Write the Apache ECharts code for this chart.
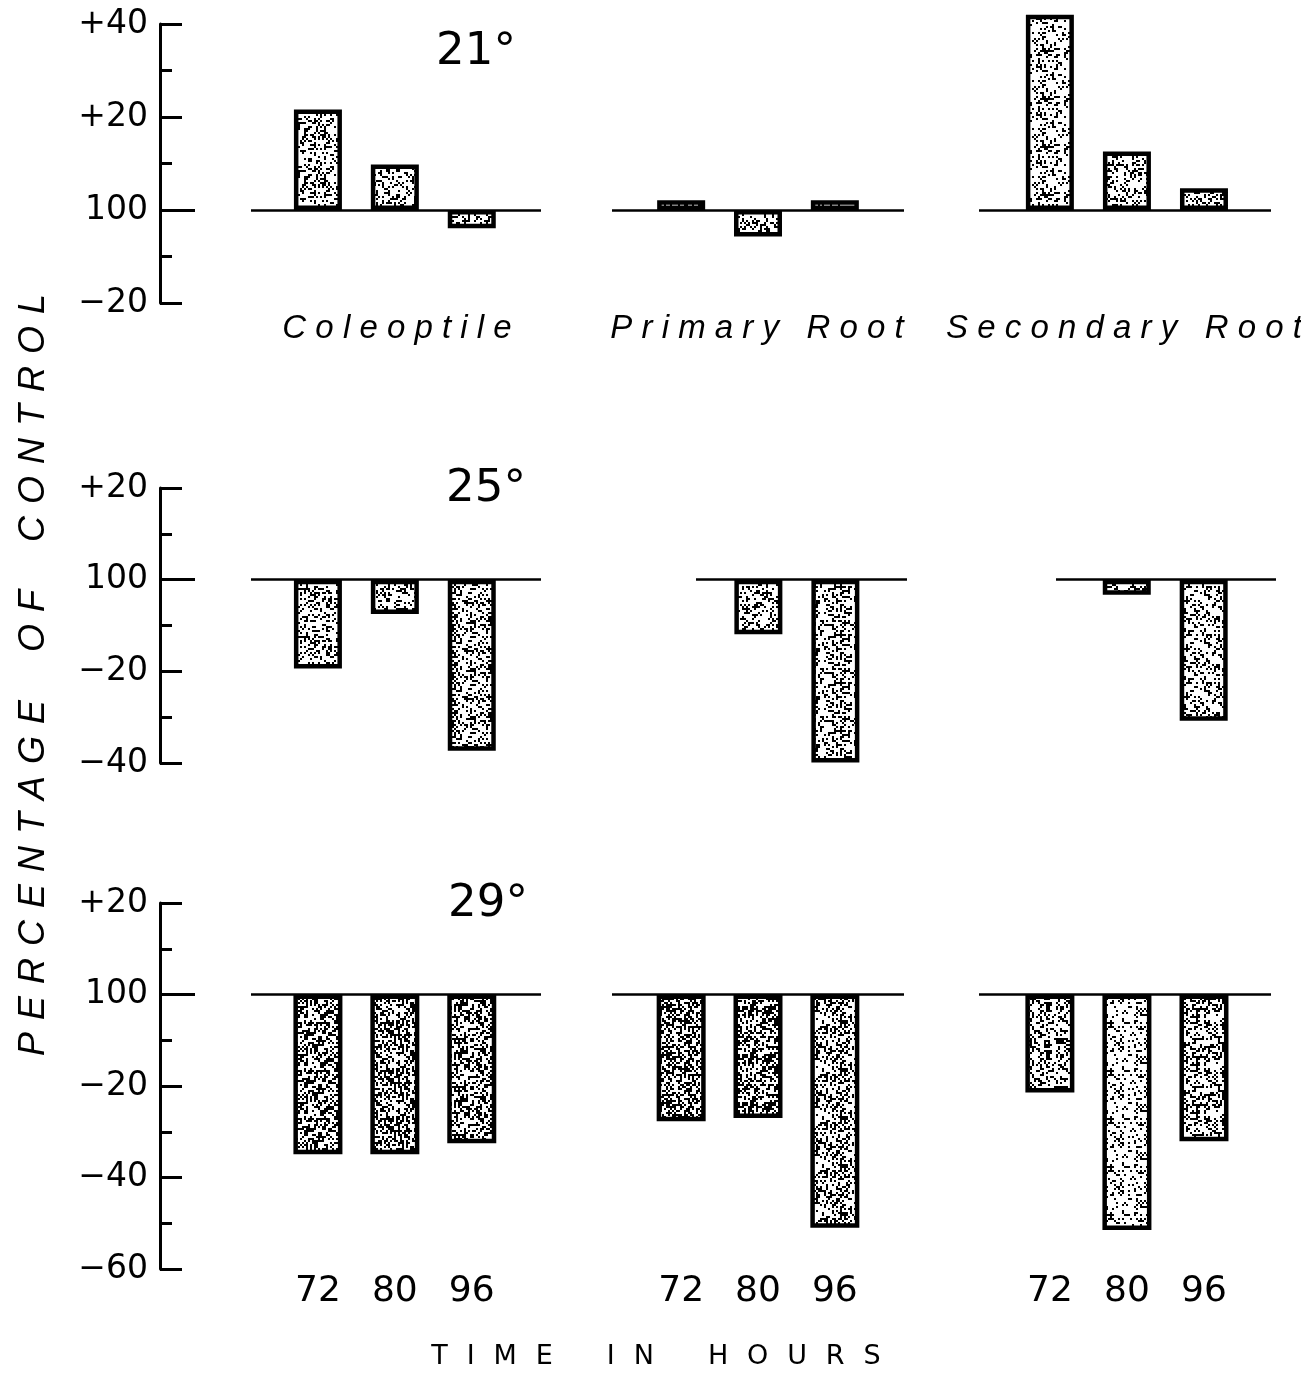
<!DOCTYPE html>
<html><head><meta charset="utf-8">
<script src="https://cdn.jsdelivr.net/npm/echarts@6/dist/echarts.min.js"></script>
<style>html,body{margin:0;padding:0;background:#fff}#c{width:1301px;height:1385px}</style>
</head><body><div id="c"></div>
<script>
// ---------- data ----------
const hours = ['72', '80', '96'];
const organs = ['Coleoptile', 'Primary Root', 'Secondary Root'];
const temps = ['21°', '25°', '29°'];
const t21Coleoptile     = [21.6, 9.8, -3.9];
const t21PrimaryRoot    = [2.1, -5.7, 2.1];
const t21SecondaryRoot  = [42.0, 12.6, 4.7];
const t25Coleoptile     = [-19.4, -7.5, -37.3];
const t25PrimaryRoot    = [null, -11.9, -39.9];
const t25SecondaryRoot  = [null, -3.3, -30.8];
const t29Coleoptile     = [-34.9, -34.9, -32.5];
const t29PrimaryRoot    = [-27.7, -27.0, -51.0];
const t29SecondaryRoot  = [-21.4, -51.5, -32.1];
const yRange21 = [-20, 40];
const yRange25 = [-40, 20];
const yRange29 = [-60, 20];
const yTitle = 'PERCENTAGE OF CONTROL';
const xTitle = 'TIME IN HOURS';

// ---------- layout / style ----------
const rows = [
  {values: [t21Coleoptile, t21PrimaryRoot, t21SecondaryRoot], range: yRange21, top: 24, height: 279, label: {x: 476, y: 52}},
  {values: [t25Coleoptile, t25PrimaryRoot, t25SecondaryRoot], range: yRange25, top: 488, height: 275, label: {x: 486, y: 489}},
  {values: [t29Coleoptile, t29PrimaryRoot, t29SecondaryRoot], range: yRange29, top: 903, height: 366, label: {x: 488, y: 904}}
];
const cols = [
  {left: 251, width: 290, min: -0.87, max: 2.90},
  {left: 612, width: 292, min: -0.90, max: 2.90},
  {left: 979, width: 292, min: -0.92, max: 2.87}
];
// row 2 has no 72 h bar for the roots: shorter baseline
const overrides = {'1-1': {left: 696, width: 211, min: 0.19, max: 2.93},
                   '1-2': {left: 1056, width: 220, min: 0.08, max: 2.94}};
const stipple = [
  [[0.28,0.30,0.30],[0.22,0.30,0.22],[0.26,0.30,0.28]],
  [[0.32,0.32,0.34],[0.28,0.28,0.30],[0.28,0.28,0.28]],
  [[0.46,0.46,0.42],[0.46,0.44,0.36],[0.38,0.22,0.34]]
];

function makeStipple(density, seed) {
  const n = 48;
  const c = document.createElement('canvas'); c.width = n; c.height = n;
  const g = c.getContext('2d');
  g.fillStyle = '#fff'; g.fillRect(0, 0, n, n);
  g.fillStyle = '#000';
  for (let y = 0; y < n; y += 2) for (let x = 0; x < n; x += 2) {
    let h = (Math.imul(x + 1, 374761393) + Math.imul(y + 7, 668265263) + Math.imul(seed + 3, 1442695041)) | 0;
    h = Math.imul(h ^ (h >>> 13), 1274126177);
    h = (h ^ (h >>> 16)) >>> 0;
    if ((h % 1000) < density * 1000) g.fillRect(x, y, 2, 2);
  }
  return c;
}

function yFmt(v) {
  if (v > 0) return '+' + v;
  if (v === 0) return '100';
  return '\u2212' + (-v);
}

const grid = [], xAxis = [], yAxis = [], series = [];
const black = '#000';
let gi = 0, yi = 0;
rows.forEach((row, r) => {
  cols.forEach((col0, c) => {
    const col = overrides[r + '-' + c] || col0;
    grid.push({left: col.left, width: col.width, top: row.top, height: row.height, containLabel: false});
    const isBottom = r === 2;
    xAxis.push({
      type: 'value', gridIndex: gi, min: col.min, max: col.max,
      axisLine: {show: false, onZero: false}, axisTick: {show: false}, splitLine: {show: false},
      axisLabel: isBottom ? {show: true, customValues: [0, 1, 2], formatter: v => hours[Math.round(v)],
        color: black, fontFamily: 'DejaVu Sans', fontSize: 36, margin: 5} : {show: false}
    });
    const showY = c === 0;
    yAxis.push({
      type: 'value', gridIndex: gi, min: row.range[0], max: row.range[1], interval: 20,
      show: showY, position: 'left', offset: col.left - 160,
      axisLine: {show: true, onZero: false, lineStyle: {color: black, width: 3}},
      axisTick: {show: true, inside: true, length: 22, lineStyle: {color: black, width: 3}},
      minorTick: {show: true, splitNumber: 2, length: 12, lineStyle: {color: black, width: 3}},
      splitLine: {show: false}, minorSplitLine: {show: false},
      axisLabel: {color: black, fontFamily: 'DejaVu Sans', fontSize: 33, margin: 12, formatter: yFmt}
    });
    const mainY = yi; yi++;
    if (showY) {
      // longer tick at the 100 (control) level
      yAxis.push({
        type: 'value', gridIndex: gi, min: row.range[0], max: row.range[1], interval: 20,
        position: 'left', offset: col.left - 160,
        axisLine: {show: false, onZero: false}, splitLine: {show: false}, axisLabel: {show: false},
        axisTick: {show: true, inside: true, length: 35, customValues: [0], lineStyle: {color: black, width: 3}}
      });
      yi++;
    }
    const vals = row.values[c];
    const data = [];
    vals.forEach((v, i) => {
      if (v == null) return;
      data.push({value: [i, v], itemStyle: {color: {image: makeStipple(stipple[r][c][i], r * 9 + c * 3 + i), repeat: 'repeat'}}});
    });
    series.push({
      type: 'bar', xAxisIndex: gi, yAxisIndex: mainY, data: data, clip: false,
      barWidth: r === 2 ? 49 : 48,
      itemStyle: {borderColor: black, borderWidth: 4.5},
      markLine: {silent: true, symbol: ['none', 'none'], label: {show: false},
        lineStyle: {color: black, width: 2.5, type: 'solid'}, data: [{yAxis: 0}], animation: false}
    });
    gi++;
  });
});

const spaced = (s, sep, wsep) => s.split(' ').map(w => w.split('').join(sep)).join(wsep);
const graphic = [];
rows.forEach((row, r) => {
  graphic.push({type: 'text', x: row.label.x, y: row.label.y,
    style: {text: temps[r], fontFamily: 'DejaVu Sans', fontSize: 45, fill: black, align: 'center', verticalAlign: 'middle'}});
});
const organX = [397, 757, 1124];
organs.forEach((o, i) => {
  graphic.push({type: 'text', x: organX[i], y: 329,
    style: {text: spaced(o, ' ', '   '), fontFamily: 'Liberation Sans', fontStyle: 'italic', fontSize: 33, fill: black, align: 'center', verticalAlign: 'middle'}});
});
graphic.push({type: 'text', x: 34, y: 675, rotation: Math.PI / 2,
  style: {text: spaced(yTitle, '\u2004', '\u2004\u2004\u2004\u2004'), fontFamily: 'Liberation Sans', fontStyle: 'italic', fontSize: 36, fill: black, align: 'center', verticalAlign: 'middle'}});
graphic.push({type: 'text', x: 656, y: 1357,
  style: {text: spaced(xTitle, '\u2002\u2009', '\u2003\u2003'), fontFamily: 'DejaVu Sans', fontSize: 27, fill: black, align: 'center', verticalAlign: 'middle'}});

const chart = echarts.init(document.getElementById('c'), null, {renderer: 'canvas'});
chart.setOption({animation: false, backgroundColor: '#fff', grid, xAxis, yAxis, series, graphic});
</script></body></html>
